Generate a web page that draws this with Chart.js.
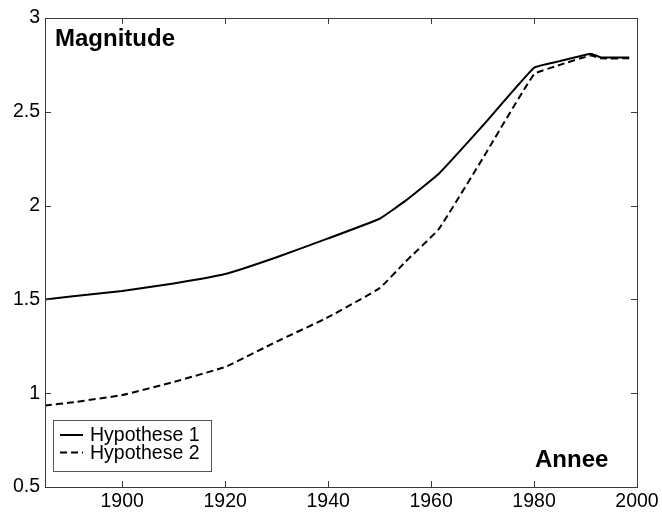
<!DOCTYPE html>
<html>
<head>
<meta charset="utf-8">
<script src="https://cdn.jsdelivr.net/npm/chart.js@4/dist/chart.umd.min.js"></script>
<style>
  html, body { margin: 0; padding: 0; background: #fff; }
  #wrap { width: 662px; height: 514px; }
</style>
</head>
<body>
<div id="wrap"><canvas id="c" width="662" height="514"></canvas></div>
<script>
// Magnitude over the years under two hypotheses
const years = [1885, 1890, 1900, 1910, 1920, 1930, 1940, 1950, 1955, 1961.5, 1970, 1980, 1985, 1991, 1993, 1998.5];
const hypothese1 = [1.50, 1.515, 1.545, 1.585, 1.635, 1.725, 1.825, 1.93, 2.025, 2.17, 2.425, 2.735, 2.77, 2.81, 2.79, 2.79];
const hypothese2 = [0.935, 0.95, 0.99, 1.06, 1.14, 1.275, 1.405, 1.56, 1.70, 1.875, 2.25, 2.70, 2.75, 2.80, 2.785, 2.785];
const seriesLabels = ['Hypothese 1', 'Hypothese 2'];
const xTicks = [1900, 1920, 1940, 1960, 1980, 2000];
const yTicks = [0.5, 1, 1.5, 2, 2.5, 3];
const yTickLabels = ['0.5', '1', '1.5', '2', '2.5', '3'];
const yTitle = 'Magnitude';
const xTitle = 'Annee';

const FONT = 'Liberation Sans, Arial, Helvetica, sans-serif';
const FRAME = '#3a3a3a';

function points(values) {
  return years.map((yr, i) => ({ x: yr, y: values[i] }));
}

// Box, inward ticks on all four sides, in-plot titles and the legend
const matlabFrame = {
  id: 'matlabFrame',
  afterDraw(chart) {
    const { ctx, chartArea: a, scales } = chart;
    const tl = 6;
    ctx.save();
    ctx.strokeStyle = FRAME;
    ctx.lineWidth = 1;
    ctx.strokeRect(a.left + 0.5, a.top + 0.5, a.right - a.left, a.bottom - a.top);
    ctx.beginPath();
    xTicks.forEach(v => {
      const px = Math.round(scales.x.getPixelForValue(v)) + 0.5;
      ctx.moveTo(px, a.bottom); ctx.lineTo(px, a.bottom - tl);
      ctx.moveTo(px, a.top); ctx.lineTo(px, a.top + tl);
    });
    yTicks.forEach(v => {
      const py = Math.round(scales.y.getPixelForValue(v)) + 0.5;
      ctx.moveTo(a.left, py); ctx.lineTo(a.left + tl, py);
      ctx.moveTo(a.right, py); ctx.lineTo(a.right - tl, py);
    });
    ctx.stroke();

    // titles inside the axes box
    ctx.fillStyle = '#000';
    ctx.font = 'bold 24px ' + FONT;
    ctx.textBaseline = 'alphabetic';
    ctx.textAlign = 'left';
    ctx.fillText(yTitle, a.left + 10, a.top + 28);
    ctx.fillText(xTitle, a.left + 490, a.bottom - 20);

    // legend box, lower left
    const lx = a.left + 8, ly = a.top + 402, lw = 158, lh = 51;
    ctx.fillStyle = '#fff';
    ctx.fillRect(lx, ly, lw, lh);
    ctx.strokeStyle = '#555';
    ctx.strokeRect(lx + 0.5, ly + 0.5, lw, lh);
    ctx.font = '19.5px ' + FONT;
    ctx.textBaseline = 'middle';
    chart.data.datasets.forEach((ds, i) => {
      const ry = ly + 15 + i * 17.5;
      ctx.strokeStyle = ds.borderColor;
      ctx.lineWidth = 2;
      ctx.setLineDash(ds.borderDash || []);
      ctx.beginPath();
      ctx.moveTo(lx + 7, ry); ctx.lineTo(lx + 30, ry);
      ctx.stroke();
      ctx.setLineDash([]);
      ctx.fillStyle = '#000';
      ctx.fillText(ds.label, lx + 37, ry + 1);
    });
    ctx.restore();
  }
};

new Chart(document.getElementById('c'), {
  type: 'line',
  data: {
    datasets: [
      {
        label: seriesLabels[0],
        data: points(hypothese1),
        borderColor: '#000',
        borderWidth: 2,
        pointRadius: 0,
        tension: 0.1,
        fill: false
      },
      {
        label: seriesLabels[1],
        data: points(hypothese2),
        borderColor: '#000',
        borderWidth: 2,
        borderDash: [7, 4],
        pointRadius: 0,
        tension: 0.1,
        fill: false
      }
    ]
  },
  options: {
    responsive: false,
    animation: false,
    events: [],
    layout: { padding: { top: 18, right: 25, left: 0, bottom: 0 } },
    plugins: { legend: { display: false }, tooltip: { enabled: false } },
    scales: {
      x: {
        type: 'linear',
        min: 1885,
        max: 2000,
        afterBuildTicks: s => { s.ticks = xTicks.map(v => ({ value: v })); },
        afterFit: s => { s.height = 27; },
        grid: { display: false, drawTicks: false },
        border: { display: false },
        ticks: {
          autoSkip: false,
          maxRotation: 0,
          padding: 3,
          color: '#000',
          font: { family: FONT, size: 19.5 },
          callback: v => String(v)
        }
      },
      y: {
        type: 'linear',
        min: 0.5,
        max: 3,
        afterBuildTicks: s => { s.ticks = yTicks.map(v => ({ value: v })); },
        afterFit: s => { s.width = 45; },
        grid: { display: false, drawTicks: false },
        border: { display: false },
        ticks: {
          autoSkip: false,
          padding: 5,
          color: '#000',
          font: { family: FONT, size: 19.5 },
          callback: v => yTickLabels[yTicks.indexOf(v)] ?? String(v)
        }
      }
    }
  },
  plugins: [matlabFrame]
});
</script>
</body>
</html>
